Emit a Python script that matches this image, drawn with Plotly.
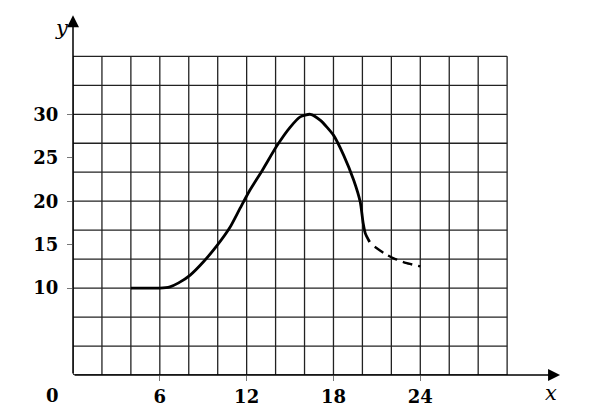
import plotly.graph_objects as go

# ---- data ----
solid_x = [4, 5, 6, 6.7, 7.3, 8.1, 9.0, 10.0, 10.85, 11.55, 12.2, 13.1, 14.1, 15.0, 15.7, 16.4, 17.1, 18.0, 18.7, 19.4, 19.85, 20.05, 20.2, 20.5]
solid_y = [10, 10, 10, 10.15, 10.6, 11.5, 13.0, 15.0, 17.0, 19.2, 21.2, 23.6, 26.4, 28.5, 29.7, 30.0, 29.3, 27.6, 25.3, 22.4, 19.9, 17.5, 16.3, 15.3]
dash_x = [20.85, 21.5, 22.2, 23.0, 24.0]
dash_y = [14.75, 14.0, 13.4, 12.9, 12.5]

x_tick_vals = [6, 12, 18, 24]
x_tick_text = ["6", "12", "18", "24"]
y_tick_vals = [10, 15, 20, 25, 30]
y_tick_text = ["10", "15", "20", "25", "30"]

grid_x = [2 * i for i in range(16)]          # 0..30
grid_y = [10 * i / 3 for i in range(12)]     # 0..36.67

x_max, y_max = 34, 42

fig = go.Figure()

shapes = []
for gx in grid_x:
    shapes.append(dict(type="line", xref="x", yref="y", x0=gx, x1=gx, y0=0, y1=grid_y[-1],
                       line=dict(color="#222", width=1.3), layer="below"))
for gy in grid_y:
    shapes.append(dict(type="line", xref="x", yref="y", x0=0, x1=grid_x[-1], y0=gy, y1=gy,
                       line=dict(color="#222", width=1.3), layer="below"))

fig.add_trace(go.Scatter(x=solid_x, y=solid_y, mode="lines",
                         line=dict(color="black", width=2.8, shape="spline", smoothing=0.6),
                         hoverinfo="skip", showlegend=False))
fig.add_trace(go.Scatter(x=dash_x, y=dash_y, mode="lines",
                         line=dict(color="black", width=2.4, shape="spline", smoothing=0.5,
                                   dash="10px,6px"),
                         hoverinfo="skip", showlegend=False))

serif = "DejaVu Serif"
annotations = [
    dict(x=33.66, y=0, ax=0, ay=0, xref="x", yref="y", axref="x", ayref="y",
         text="", showarrow=True, arrowhead=2, arrowsize=1.6, arrowwidth=1.5, arrowcolor="black"),
    dict(x=0, y=41.4, ax=0, ay=0, xref="x", yref="y", axref="x", ayref="y",
         text="", showarrow=True, arrowhead=2, arrowsize=1.6, arrowwidth=1.5, arrowcolor="black"),
    dict(x=0, y=0, xref="paper", yref="paper", xshift=-21, yshift=-20, text="0", showarrow=False,
         xanchor="center", yanchor="middle",
         font=dict(family=serif, size=18, color="black", weight="bold")),
    dict(x=478 / 492, y=0, xref="paper", yref="paper", yshift=-18, text="<i>x</i>", showarrow=False,
         xanchor="center", yanchor="middle",
         font=dict(family=serif, size=21, color="black")),
    dict(x=0, y=347 / 365.4, xref="paper", yref="paper", xshift=-11, text="<i>y</i>", showarrow=False,
         xanchor="center", yanchor="middle",
         font=dict(family=serif, size=21, color="black")),
]

fig.update_layout(
    width=600, height=419, autosize=False,
    margin=dict(l=65, r=43, t=2, b=52),
    paper_bgcolor="white", plot_bgcolor="white",
    shapes=shapes, annotations=annotations,
    xaxis=dict(range=[0, x_max], showgrid=False, zeroline=False, showline=False,
               tickvals=x_tick_vals, ticktext=x_tick_text, ticks="outside", ticklen=5,
               tickcolor="#777", tickwidth=1.3,
               tickfont=dict(family=serif, size=18, color="black", weight="bold")),
    yaxis=dict(range=[0, y_max], showgrid=False, zeroline=False, showline=False,
               tickvals=y_tick_vals, ticktext=y_tick_text, ticks="outside", ticklen=5,
               tickcolor="#777", tickwidth=1.3, ticklabelstandoff=5,
               tickfont=dict(family=serif, size=18, color="black", weight="bold")),
)

fig.write_html("out.html")
